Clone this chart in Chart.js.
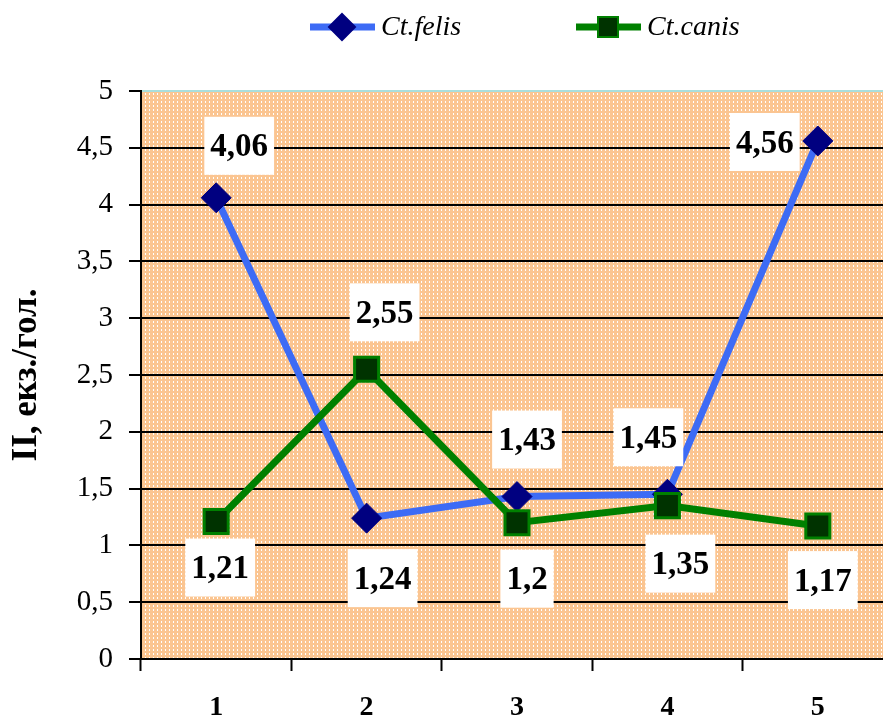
<!DOCTYPE html>
<html>
<head>
<meta charset="utf-8">
<script src="https://cdn.jsdelivr.net/npm/chart.js@4/dist/chart.umd.min.js"></script>
<style>
  html, body { margin: 0; padding: 0; background: #fff; overflow: hidden; }
  #wrap { width: 883px; height: 716px; overflow: hidden; position: relative; }
  canvas { display: block; }
</style>
</head>
<body>
<div id="wrap"><canvas id="c" width="895" height="716"></canvas></div>
<script>
// Categories and series
const categories = ['1', '2', '3', '4', '5'];
const felisValues = [4.06, 1.24, 1.43, 1.45, 4.56];
const canisValues = [1.21, 2.55, 1.20, 1.35, 1.17];
const yTicks = [0, 0.5, 1, 1.5, 2, 2.5, 3, 3.5, 4, 4.5, 5];

// Where each value box sits relative to its point (dx, dy in px)
const felisLabelOffsets = [[23, -52], [16, 60], [10, -57], [-19, -57], [-53, 1]];
const canisLabelOffsets = [[4, 46], [18, -57], [10, 56], [13, 58], [5, 54]];

const SERIF = "'Liberation Serif', 'Times New Roman', serif";
const fmt = v => String(v).replace('.', ',');

// Dotted orange fill for the plot area
function makePattern(ctx) {
  const t = document.createElement('canvas');
  t.width = 4; t.height = 4;
  const c = t.getContext('2d');
  c.fillStyle = '#FBC591';
  c.fillRect(0, 0, 4, 4);
  c.fillStyle = '#FFFFFF';
  c.fillRect(1, 1, 1, 2);
  return ctx.createPattern(t, 'repeat');
}

const plotBackground = {
  id: 'plotBackground',
  beforeDraw(chart) {
    const { ctx, chartArea: a } = chart;
    ctx.save();
    ctx.fillStyle = makePattern(ctx);
    ctx.fillRect(a.left, a.top, a.right - a.left, a.bottom - a.top);
    ctx.restore();
  },
  beforeDatasetsDraw(chart) {
    const { ctx, chartArea: a } = chart;
    ctx.save();
    ctx.strokeStyle = '#A9DEDC';
    ctx.lineWidth = 2;
    ctx.beginPath();
    ctx.moveTo(a.left + 1, a.top);
    ctx.lineTo(a.right, a.top);
    ctx.stroke();
    ctx.restore();
  }
};

// Value boxes: white rectangle with bold number
const valueBoxes = {
  id: 'valueBoxes',
  afterDatasetsDraw(chart) {
    const { ctx } = chart;
    const sets = [[0, felisLabelOffsets], [1, canisLabelOffsets]];
    ctx.save();
    ctx.font = 'bold 33px ' + SERIF;
    ctx.textAlign = 'center';
    ctx.textBaseline = 'middle';
    sets.forEach(([di, offs]) => {
      const meta = chart.getDatasetMeta(di);
      const data = chart.data.datasets[di].data;
      meta.data.forEach((pt, i) => {
        const txt = fmt(data[i]);
        const cx = pt.x + offs[i][0];
        const cy = pt.y + offs[i][1];
        const w = ctx.measureText(txt).width + 12;
        const h = 58;
        ctx.fillStyle = '#FFFFFF';
        ctx.fillRect(cx - w / 2, cy - h / 2, w, h);
        ctx.fillStyle = '#000000';
        ctx.fillText(txt, cx, cy + 2);
      });
    });
    ctx.restore();
  }
};

// Legend row at the top: line sample, marker, italic name
const topLegend = {
  id: 'topLegend',
  afterDraw(chart) {
    const { ctx } = chart;
    const items = [
      { ds: chart.data.datasets[0], x: 310, marker: 'diamond' },
      { ds: chart.data.datasets[1], x: 576, marker: 'square' }
    ];
    const y = 27;
    ctx.save();
    items.forEach(it => {
      ctx.strokeStyle = it.ds.borderColor;
      ctx.lineWidth = 7;
      ctx.beginPath();
      ctx.moveTo(it.x, y);
      ctx.lineTo(it.x + 65, y);
      ctx.stroke();
      const mx = it.x + 32;
      ctx.fillStyle = it.ds.pointBackgroundColor;
      ctx.strokeStyle = it.ds.pointBorderColor;
      ctx.lineWidth = 2;
      ctx.beginPath();
      if (it.marker === 'diamond') {
        ctx.moveTo(mx, y - 13); ctx.lineTo(mx + 13, y);
        ctx.lineTo(mx, y + 13); ctx.lineTo(mx - 13, y);
        ctx.closePath();
      } else {
        ctx.rect(mx - 10, y - 10, 20, 20);
      }
      ctx.fill();
      ctx.stroke();
      ctx.fillStyle = '#000';
      ctx.font = 'italic 28px ' + SERIF;
      ctx.textAlign = 'left';
      ctx.textBaseline = 'middle';
      ctx.fillText(it.ds.label, it.x + 71, y + 1);
    });
    ctx.restore();
  }
};

new Chart(document.getElementById('c'), {
  type: 'line',
  data: {
    labels: categories,
    datasets: [
      {
        label: 'Ct.felis',
        data: felisValues,
        borderColor: '#3D6BF5',
        borderWidth: 7,
        pointStyle: 'rectRot',
        pointRadius: 15,
        pointHoverRadius: 15,
        pointBackgroundColor: '#000080',
        pointBorderColor: '#000080',
        pointBorderWidth: 1,
        tension: 0,
        order: 1
      },
      {
        label: 'Ct.canis',
        data: canisValues,
        borderColor: '#008000',
        borderWidth: 7,
        pointStyle: 'rect',
        pointRadius: 17,
        pointHoverRadius: 17,
        pointBackgroundColor: '#003300',
        pointBorderColor: '#008000',
        pointBorderWidth: 3,
        tension: 0,
        order: 0
      }
    ]
  },
  options: {
    responsive: false,
    animation: false,
    devicePixelRatio: 1,
    layout: { autoPadding: false, padding: { top: 91, left: 0, right: 2, bottom: 0 } },
    plugins: {
      legend: { display: false },
      tooltip: { enabled: false }
    },
    scales: {
      x: {
        offset: true,
        grid: {
          offset: true,
          drawOnChartArea: false,
          tickLength: 12,
          tickColor: '#000',
          tickWidth: 2
        },
        border: { color: '#000', width: 2 },
        ticks: {
          color: '#000',
          font: { family: SERIF, size: 28, weight: 'bold' },
          padding: 20,
          maxRotation: 0
        },
        afterFit(s) { s.height = 57; }
      },
      y: {
        min: 0,
        max: 5,
        afterBuildTicks(s) { s.ticks = yTicks.map(v => ({ value: v })); },
        grid: {
          color: c => (c.tick && (c.tick.value === 0 || c.tick.value === 5)) ? 'rgba(0,0,0,0)' : '#000',
          lineWidth: 2,
          tickLength: 12,
          tickColor: '#000',
          tickWidth: 2
        },
        border: { color: '#000', width: 2 },
        ticks: {
          color: '#000',
          font: { family: SERIF, size: 29 },
          padding: 16,
          callback: v => fmt(v)
        },
        title: {
          display: true,
          text: 'ІІ, екз./гол.',
          color: '#000',
          font: { family: SERIF, size: 35, weight: 'bold' },
          padding: { top: 6, bottom: 0 }
        },
        afterFit(s) { s.width = 141; }
      }
    }
  },
  plugins: [plotBackground, valueBoxes, topLegend]
});
</script>
</body>
</html>
